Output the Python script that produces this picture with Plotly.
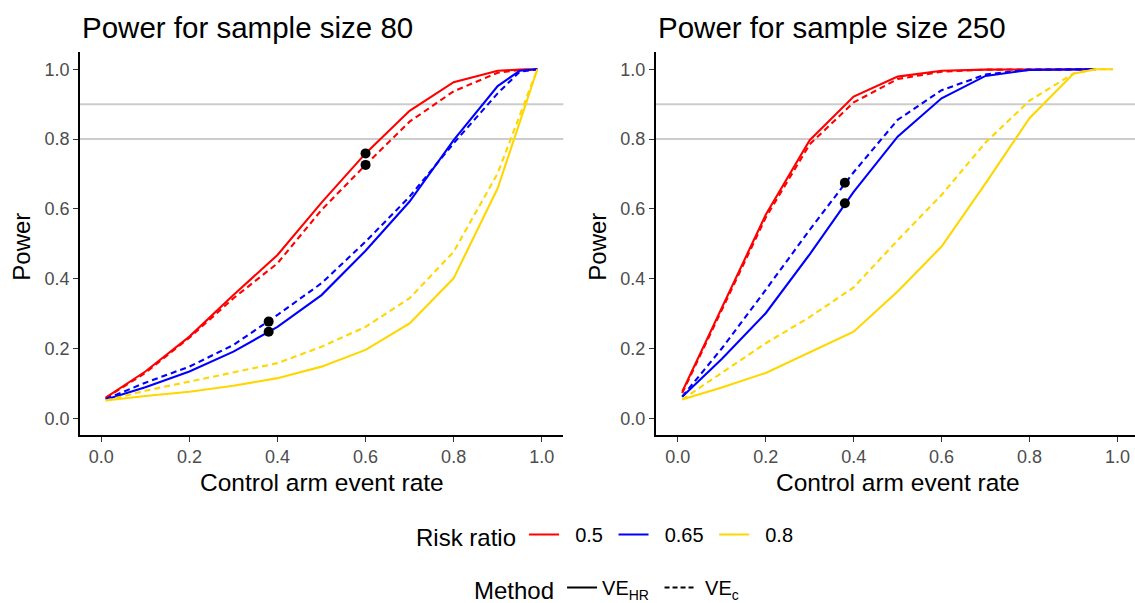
import plotly.graph_objects as go

# ---------------- data ----------------
X_80 = [0.01, 0.1, 0.2, 0.3, 0.4, 0.5, 0.6, 0.7, 0.8, 0.9, 0.95, 0.99]
RED_HR_80 = [0.059, 0.134, 0.234, 0.353, 0.468, 0.618, 0.759, 0.881, 0.963, 0.996, 0.999, 1.0]
RED_C_80 = [0.058, 0.130, 0.231, 0.344, 0.444, 0.597, 0.726, 0.850, 0.937, 0.990, 0.998, 1.0]
BLUE_HR_80 = [0.054, 0.089, 0.134, 0.191, 0.262, 0.353, 0.480, 0.621, 0.797, 0.952, 0.996, 1.0]
BLUE_C_80 = [0.055, 0.102, 0.148, 0.210, 0.296, 0.387, 0.506, 0.635, 0.788, 0.931, 0.993, 1.0]
YEL_HR_80 = [0.051, 0.064, 0.076, 0.093, 0.115, 0.148, 0.196, 0.272, 0.401, 0.659, 0.848, 1.0]
YEL_C_80 = [0.051, 0.079, 0.105, 0.131, 0.158, 0.205, 0.262, 0.344, 0.477, 0.702, 0.867, 1.0]

X_250 = [0.01, 0.1, 0.2, 0.3, 0.4, 0.5, 0.6, 0.7, 0.8, 0.9, 0.95]
X_250_Y = [0.01, 0.1, 0.2, 0.3, 0.4, 0.5, 0.6, 0.7, 0.8, 0.9, 0.95, 0.99]
RED_HR_250 = [0.076, 0.318, 0.583, 0.797, 0.922, 0.979, 0.996, 0.999, 1.0, 1.0, 1.0]
RED_C_250 = [0.072, 0.310, 0.575, 0.785, 0.905, 0.972, 0.993, 0.999, 1.0, 1.0, 1.0]
BLUE_HR_250 = [0.062, 0.170, 0.301, 0.470, 0.649, 0.807, 0.917, 0.981, 0.998, 1.0, 1.0]
BLUE_C_250 = [0.062, 0.200, 0.368, 0.540, 0.705, 0.855, 0.940, 0.985, 0.999, 1.0, 1.0]
YEL_HR_250 = [0.054, 0.088, 0.130, 0.190, 0.248, 0.363, 0.492, 0.673, 0.860, 0.987, 1.0, 1.0]
YEL_C_250 = [0.054, 0.130, 0.215, 0.290, 0.375, 0.510, 0.640, 0.790, 0.910, 0.988, 1.0, 1.0]

DOT_X_80 = [0.6, 0.6, 0.38, 0.38]
DOT_Y_80 = [0.759, 0.726, 0.277, 0.248]
DOT_X_250 = [0.38, 0.38]
DOT_Y_250 = [0.675, 0.616]

HLINES = [0.8, 0.9]
RISK_RATIOS = ["0.5", "0.65", "0.8"]
RR_COLORS = ["#FF0000", "#0000FF", "#FFD700"]
METHODS = ["VE<sub>HR</sub>", "VE<sub>c</sub>"]
TICKS = [0.0, 0.2, 0.4, 0.6, 0.8, 1.0]
TICK_TEXT = ["0.0", "0.2", "0.4", "0.6", "0.8", "1.0"]
TITLES = ["Power for sample size 80", "Power for sample size 250"]

# ---------------- figure ----------------
W, H = 1135, 603
FONT = "Liberation Sans, Arial, sans-serif"
DASH = "6px,4px"
NB = "\u00a0"

fig = go.Figure()

panels = [
    ("x", "y", [(X_80, RED_HR_80, RED_C_80), (X_80, BLUE_HR_80, BLUE_C_80), (X_80, YEL_HR_80, YEL_C_80)],
     DOT_X_80, DOT_Y_80),
    ("x2", "y2", [(X_250, RED_HR_250, RED_C_250), (X_250, BLUE_HR_250, BLUE_C_250), (X_250_Y, YEL_HR_250, YEL_C_250)],
     DOT_X_250, DOT_Y_250),
]

for xa, ya, series, dx, dy in panels:
    for (xs, hr, c), col in zip(series, RR_COLORS):
        fig.add_trace(go.Scatter(x=xs, y=hr, mode="lines", xaxis=xa, yaxis=ya,
                                 line=dict(color=col, width=2.1), showlegend=False))
        fig.add_trace(go.Scatter(x=xs, y=c, mode="lines", xaxis=xa, yaxis=ya,
                                 line=dict(color=col, width=2.1, dash=DASH), showlegend=False))
    fig.add_trace(go.Scatter(x=dx, y=dy, mode="markers", xaxis=xa, yaxis=ya,
                             marker=dict(color="black", size=10), showlegend=False))

# legend entries
for name, col in zip(RISK_RATIOS, RR_COLORS):
    fig.add_trace(go.Scatter(x=[None], y=[None], mode="lines", name=NB * 2 + name + NB,
                             line=dict(color=col, width=2), legend="legend"))
for name, dash, pre in zip(METHODS, ["solid", "5px,3px"], ["", NB]):
    fig.add_trace(go.Scatter(x=[None], y=[None], mode="lines", name=pre + name + NB,
                             line=dict(color="black", width=2, dash=dash), legend="legend2"))

axis_common = dict(showline=True, linecolor="black", linewidth=1.5, ticks="outside",
                   ticklen=5, tickwidth=1.2, tickcolor="#333333", showgrid=False,
                   zeroline=False, tickvals=TICKS, ticktext=TICK_TEXT,
                   tickfont=dict(family=FONT, size=18, color="#4D4D4D"), fixedrange=True)

ydom = [1 - 435 / H, 1 - 51.7 / H]
fig.update_layout(
    width=W, height=H, margin=dict(l=0, r=0, t=0, b=0, autoexpand=False),
    plot_bgcolor="white", paper_bgcolor="white",
    font=dict(family=FONT, color="black"),
    xaxis=dict(domain=[80 / W, 563.3 / W], range=[-0.0484, 1.049], anchor="y", **axis_common),
    yaxis=dict(domain=ydom, range=[-0.0479, 1.0504], anchor="x", **axis_common),
    xaxis2=dict(domain=[655.6 / W, 1.0], range=[-0.0505, 1.040], anchor="y2", **axis_common),
    yaxis2=dict(domain=ydom, range=[-0.0479, 1.0504], anchor="x2", **axis_common),
    legend=dict(orientation="h", x=609 / W, xanchor="center", y=1 - 536 / H, yanchor="middle",
                title=dict(text="Risk ratio", font=dict(size=24, family=FONT)),
                font=dict(size=20, family=FONT), bgcolor="rgba(0,0,0,0)"),
    legend2=dict(orientation="h", x=611 / W, xanchor="center", y=1 - 589 / H, yanchor="middle",
                 title=dict(text="Method", font=dict(size=24, family=FONT)),
                 font=dict(size=20, family=FONT), bgcolor="rgba(0,0,0,0)"),
)

shapes = []
for xr in ["x", "x2"]:
    yr = "y" if xr == "x" else "y2"
    for h in HLINES:
        shapes.append(dict(type="line", xref=f"{xr} domain", yref=yr, x0=0, x1=1, y0=h, y1=h,
                           line=dict(color="#CCCCCC", width=2), layer="below"))
fig.update_layout(shapes=shapes)

ann = []
for title, x0 in zip(TITLES, [80, 656]):
    ann.append(dict(text=title, xref="paper", yref="paper", x=x0 / W, y=1 - 27 / H,
                    xanchor="left", yanchor="middle", showarrow=False,
                    font=dict(size=29.5, family=FONT, color="black")))
for cx in [321.6, 897.5]:
    ann.append(dict(text="Control arm event rate", xref="paper", yref="paper", x=cx / W, y=1 - 482 / H,
                    xanchor="center", yanchor="middle", showarrow=False,
                    font=dict(size=24.5, family=FONT, color="black")))
for cx in [22, 598]:
    ann.append(dict(text="Power", xref="paper", yref="paper", x=cx / W, y=1 - 246.7 / H,
                    xanchor="center", yanchor="middle", textangle=-90, showarrow=False,
                    font=dict(size=24, family=FONT, color="black")))
fig.update_layout(annotations=ann)

fig.write_html("out.html", post_script="document.body.style.margin='0px';",
               config={"displayModeBar": False})
